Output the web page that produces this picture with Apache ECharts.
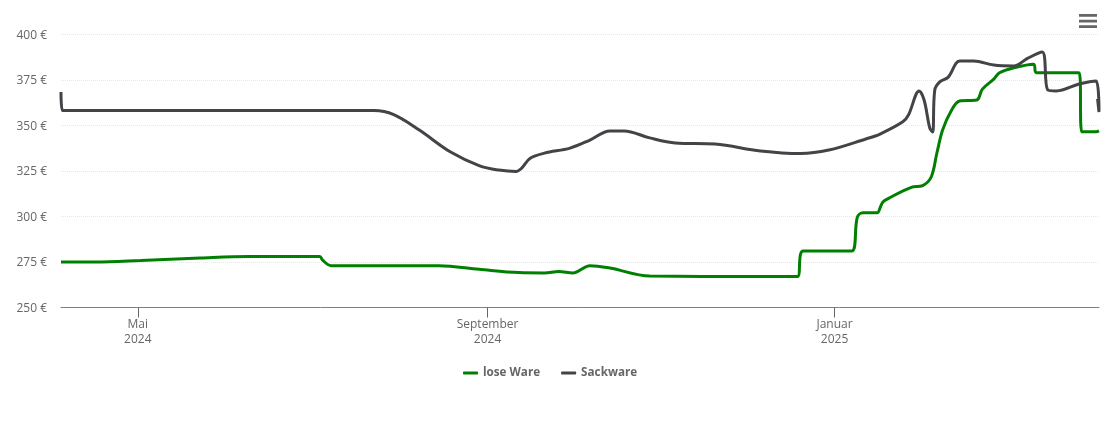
<!DOCTYPE html>
<html>
<head>
<meta charset="utf-8">
<script src="https://cdn.jsdelivr.net/npm/echarts@6/dist/echarts.min.js"></script>
<style>
  html, body { margin: 0; padding: 0; background: #fff; }
  #main { width: 1110px; height: 422px; }
</style>
</head>
<body>
<div id="main"></div>
<script>
const tickDates = ['2024-05-01', '2024-09-01', '2025-01-01']
const tickLabels = ['Mai\n2024', 'September\n2024', 'Januar\n2025']

const loseDates = ['2024-04-04', '2024-04-16', '2024-05-02', '2024-05-23', '2024-06-09', '2024-07-04', '2024-07-05', '2024-07-08',
  '2024-08-15', '2024-08-29', '2024-09-12', '2024-09-21', '2024-09-26', '2024-10-01', '2024-10-07', '2024-10-14', '2024-10-28',
  '2024-12-19', '2024-12-20', '2024-12-21', '2025-01-07', '2025-01-09', '2025-01-11', '2025-01-16', '2025-01-17', '2025-01-18', '2025-01-20',
  '2025-01-28', '2025-02-01', '2025-02-04', '2025-02-06', '2025-02-08', '2025-02-11', '2025-02-14', '2025-02-20', '2025-02-22', '2025-02-26',
  '2025-02-28', '2025-03-05', '2025-03-12', '2025-03-13', '2025-03-28', '2025-03-29', '2025-04-03', '2025-04-04']
const loseValues = [275, 275, 275.8, 277.2, 278, 278, 276, 273,
  273, 271, 269.2, 269, 269.8, 269, 273, 271.7, 267.3,
  267, 279, 281, 281, 299.5, 302, 302, 304.7, 308, 310,
  316, 317, 321.7, 334.9, 347.5, 358, 363.5, 364, 370, 375.5,
  379, 381.7, 383.7, 379, 379, 346.5, 346.5, 347]

const sackDates = ['2024-04-04 00:00', '2024-04-04 12:00', '2024-07-23', '2024-07-30', '2024-08-08', '2024-08-19', '2024-08-29',
  '2024-09-05', '2024-09-11', '2024-09-13', '2024-09-16', '2024-09-21', '2024-09-30', '2024-10-07', '2024-10-14', '2024-10-19',
  '2024-10-28', '2024-11-06', '2024-11-20', '2024-12-06', '2024-12-20', '2024-12-30', '2025-01-12', '2025-01-17', '2025-01-25',
  '2025-01-27', '2025-01-30 18:00', '2025-02-01 12:00', '2025-02-03 12:00', '2025-02-04 12:00', '2025-02-05 06:00', '2025-02-07', '2025-02-10', '2025-02-14',
  '2025-02-19', '2025-02-26', '2025-03-05', '2025-03-10', '2025-03-15', '2025-03-17', '2025-03-20', '2025-03-28', '2025-04-03',
  '2025-04-04', '2025-04-03 12:00']
const sackValues = [368.4, 358.2, 358.2, 356, 347.5, 335.4, 328,
  325.5, 324.7, 326.6, 332, 334.8, 337.6, 342, 347, 347,
  343.2, 340.4, 339.8, 336, 334.6, 336.5, 342.6, 345.3, 352,
  355.8, 369, 364, 348.6, 346.4, 369.5, 374, 376.6, 385.4,
  385.4, 383.2, 382.7, 387, 390.4, 369.5, 369, 372.8, 374.5,
  357.4, 364.6]

const ts = d => +echarts.time.parse(d)
const zip = (dates, values) => dates.map((d, i) => [ts(d), values[i]])
const labelFont = '"Open Sans", "Noto Sans", sans-serif'
const tickTimes = tickDates.map(ts)

const myChart = echarts.init(document.getElementById('main'), null, { renderer: 'canvas' })
myChart.setOption({
  animation: false,
  grid: { left: 61, right: 11, top: 34.5, bottom: 114.5 },
  legend: {
    bottom: 38,
    left: 458,
    itemWidth: 15,
    itemHeight: 3,
    itemGap: 21,
    icon: 'roundRect',
    textStyle: { color: '#666', fontSize: 11.7, fontWeight: 'bold', fontFamily: labelFont },
    data: ['lose Ware', 'Sackware']
  },
  toolbox: {
    right: -2,
    top: -1,
    itemSize: 18,
    iconStyle: { color: '#666', borderColor: '#666', borderWidth: 0 },
    feature: {
      myMenu: {
        show: true,
        title: '',
        icon: 'path://M1 3H17V5.5H1ZM1 8H17V10.5H1ZM1 13H17V15.5H1Z',
        onclick: function () {}
      }
    }
  },
  xAxis: {
    type: 'value',
    min: ts('2024-04-04'),
    max: ts('2025-04-04'),
    axisLine: { lineStyle: { color: '#808080', width: 1 } },
    axisTick: { length: 10, customValues: tickTimes, lineStyle: { color: '#666' } },
    axisLabel: {
      customValues: tickTimes,
      formatter: val => tickLabels[tickTimes.indexOf(val)],
      color: '#666',
      fontSize: 12,
      lineHeight: 15,
      margin: 10,
      hideOverlap: false,
      fontFamily: labelFont
    },
    splitLine: { show: false }
  },
  yAxis: {
    type: 'value',
    min: 250,
    max: 400,
    interval: 25,
    axisLine: { show: false },
    axisTick: { show: false },
    axisLabel: {
      formatter: '{t|{value} €}',
      margin: 14,
      rich: { t: { color: '#666', fontSize: 12, padding: [2, 0, 0, 0], fontFamily: labelFont } }
    },
    splitLine: { lineStyle: { color: '#e6e6e6', type: 'dotted', width: 1 } }
  },
  series: [
    {
      name: 'lose Ware',
      type: 'line',
      data: zip(loseDates, loseValues),
      showSymbol: false,
      smooth: 0.35,
      lineStyle: { color: '#008000', width: 3 },
      itemStyle: { color: '#008000' }
    },
    {
      name: 'Sackware',
      type: 'line',
      data: zip(sackDates, sackValues),
      showSymbol: false,
      smooth: 0.35,
      lineStyle: { color: '#434348', width: 3 },
      itemStyle: { color: '#434348' }
    }
  ]
})
</script>
</body>
</html>
